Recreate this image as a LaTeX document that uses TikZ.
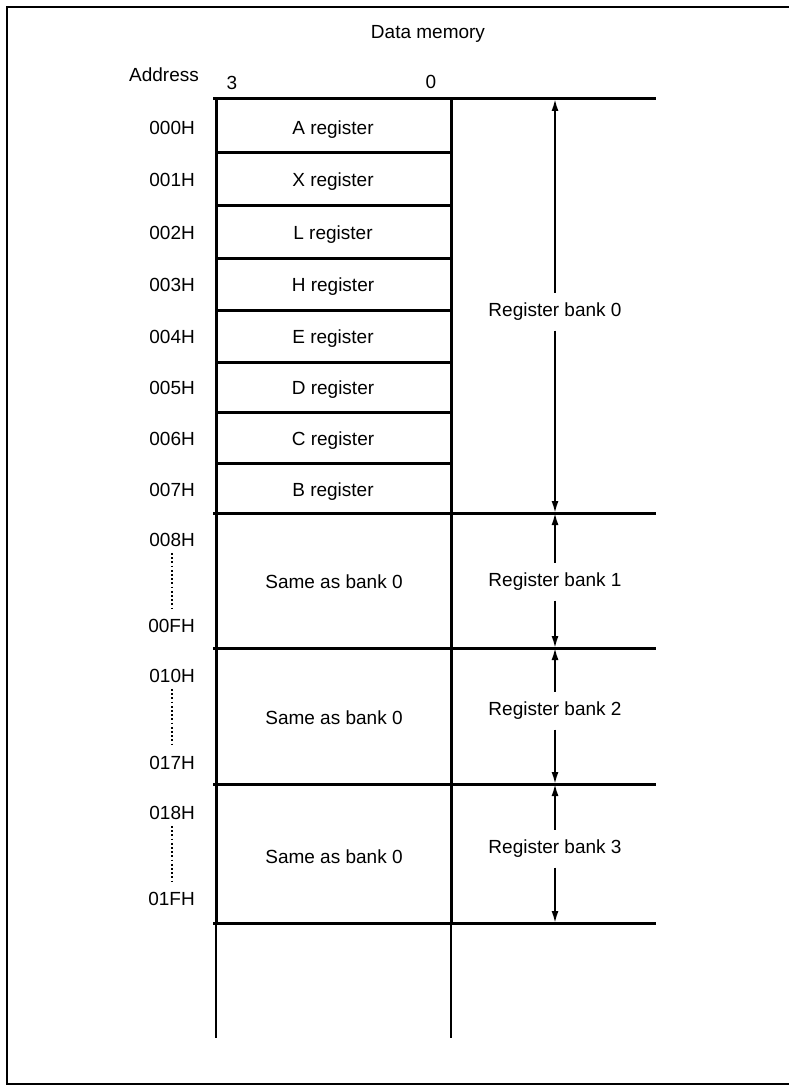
\documentclass[tikz,border=0pt]{standalone}
\usepackage{fontspec}
\setmainfont{Liberation Sans}
\usetikzlibrary{arrows.meta}
\begin{document}
\begin{tikzpicture}[x=1pt,y=-1pt,font=\fontsize{19}{22}\selectfont,
  frame/.style={line width=2pt},
  heavy/.style={line width=3pt},
  light/.style={line width=1.8pt},
  lbl/.style={inner sep=0pt,anchor=base},
  addr/.style={inner sep=0pt,anchor=base east},
  bank/.style={inner sep=0pt,outer ysep=10pt,anchor=base},
  dim/.style={line width=1.8pt,-{Latex[length=12pt,width=7pt]}},
  dots/.style={line width=2pt,dash pattern=on 1.8pt off 2.4pt},
]
\useasboundingbox (0,0) rectangle (788,1086);
\draw[frame] (795,7) -- (7,7) -- (7,1084) -- (795,1084);

% headings
\node[lbl] (title) at (428,38.6) {Data memory};
\node[lbl] (addrhead) at (164,81.6) {Address};
\node[lbl] (bit3) at (232,89.6) {3};
\node[lbl] (bit0) at (431,88.6) {0};

% memory column
\draw[heavy] (213,99) -- (656,99);
\draw[heavy] (216,99) -- (216,923);
\draw[heavy] (451,99) -- (451,923);
\foreach \y in {153,205,258,310,362,412,463}
  \draw[heavy] (216,\y) -- (451,\y);
\foreach \y in {513,648,784,923}
  \draw[heavy] (213,\y) -- (656,\y);
\draw[light] (216,923) -- (216,1038);
\draw[light] (451,923) -- (451,1038);

% register names
\node[lbl] (rA) at (333,134.6) {A register};
\node[lbl] (rX) at (333,186.6) {X register};
\node[lbl] (rL) at (333,239.6) {L register};
\node[lbl] (rH) at (333,291.6) {H register};
\node[lbl] (rE) at (333,343.6) {E register};
\node[lbl] (rD) at (333,394.6) {D register};
\node[lbl] (rC) at (333,445.6) {C register};
\node[lbl] (rB) at (333,496.6) {B register};
\node[lbl] (s1) at (334,588.6) {Same as bank 0};
\node[lbl] (s2) at (334,724.6) {Same as bank 0};
\node[lbl] (s3) at (334,863.6) {Same as bank 0};

% addresses
\node[addr] (a000) at (195,134.6) {000H};
\node[addr] (a001) at (195,186.6) {001H};
\node[addr] (a002) at (195,239.6) {002H};
\node[addr] (a003) at (195,291.6) {003H};
\node[addr] (a004) at (195,343.6) {004H};
\node[addr] (a005) at (195,394.6) {005H};
\node[addr] (a006) at (195,445.6) {006H};
\node[addr] (a007) at (195,496.6) {007H};
\node[addr] (a008) at (195,546.6) {008H};
\node[addr] (a00F) at (195,632.6) {00FH};
\node[addr] (a010) at (195,682.6) {010H};
\node[addr] (a017) at (195,769.6) {017H};
\node[addr] (a018) at (195,819.6) {018H};
\node[addr] (a01F) at (195,905.6) {01FH};
\draw[dots,shorten <=6pt,shorten >=10pt] (a008.south) -- (a008.south |- a00F.north);
\draw[dots,shorten <=6pt,shorten >=10pt] (a010.south) -- (a010.south |- a017.north);
\draw[dots,shorten <=6pt,shorten >=10pt] (a018.south) -- (a018.south |- a01F.north);

% bank dimension arrows
\coordinate (t0) at (555,99);
\coordinate (t1) at (555,513);
\coordinate (t2) at (555,648);
\coordinate (t3) at (555,784);
\coordinate (t4) at (555,923);
\node[bank] (b0) at (555,316.6) {Register bank 0};
\node[bank] (b1) at (555,586.6) {Register bank 1};
\node[bank] (b2) at (555,715.6) {Register bank 2};
\node[bank] (b3) at (555,853.6) {Register bank 3};
\draw[dim] (b0) -- (t0);
\draw[dim] (b0) -- (t1);
\draw[dim] (b1) -- (t1);
\draw[dim] (b1) -- (t2);
\draw[dim] (b2) -- (t2);
\draw[dim] (b2) -- (t3);
\draw[dim] (b3) -- (t3);
\draw[dim] (b3) -- (t4);
\end{tikzpicture}
\end{document}
